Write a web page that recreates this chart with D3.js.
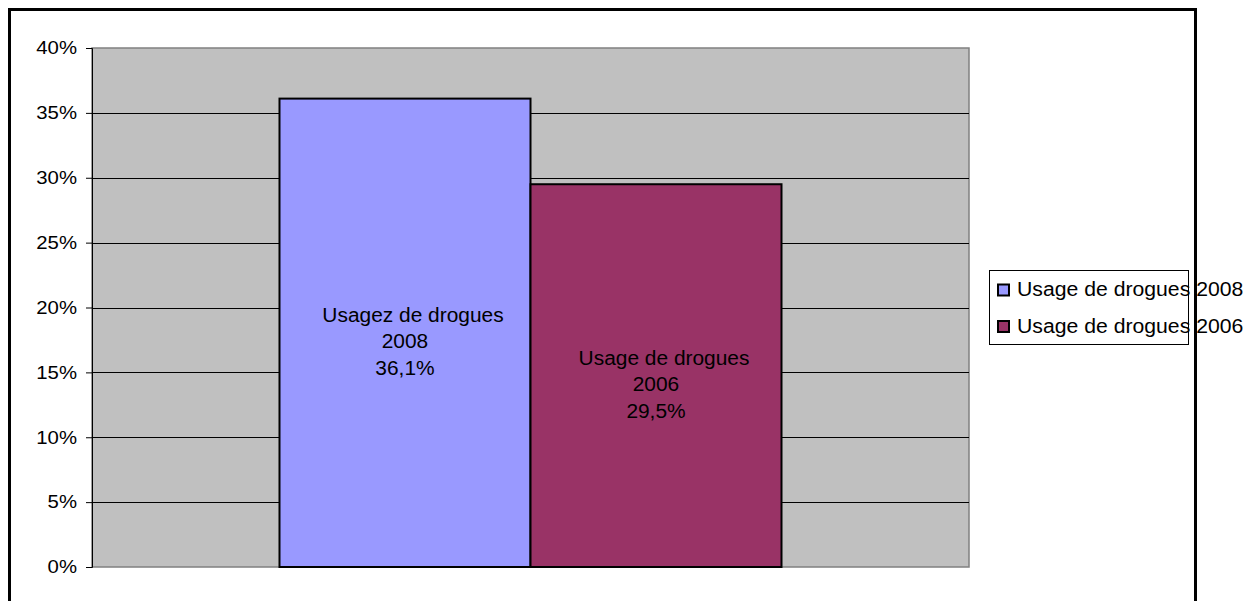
<!DOCTYPE html>
<html>
<head>
<meta charset="utf-8">
<script src="https://cdn.jsdelivr.net/npm/d3@7"></script>
<style>
body { margin: 0; background: #fff; }
text { font-family: "Liberation Sans", Arial, sans-serif; fill: #000; }
</style>
</head>
<body>
<div id="chart"></div>
<script>
// data
var categories = [""];
var seriesNames = ["Usage de drogues 2008", "Usage de drogues 2006"];
var seriesValues = [36.1, 29.5];
var barLabels = [["Usagez de drogues", "2008", "36,1%"], ["Usage de drogues", "2006", "29,5%"]];
var seriesColors = ["#9999ff", "#993366"];
var yTicks = [0, 5, 10, 15, 20, 25, 30, 35, 40];

var width = 1258, height = 601;
var plot = {left: 92, top: 48, right: 969, bottom: 567};

var svg = d3.select("#chart")
  .append("svg")
  .attr("width", width)
  .attr("height", height);

// outer frame (bottom edge runs off the picture)
svg.append("rect")
  .attr("x", 9.5).attr("y", 9.5)
  .attr("width", 1186).attr("height", 620)
  .attr("fill", "#fff")
  .attr("stroke", "#000")
  .attr("stroke-width", 3);

var yscale = d3.scaleLinear().domain([0, 40]).range([plot.bottom, plot.top]);

var x0 = d3.scaleBand()
  .domain(categories)
  .range([plot.left, plot.right])
  .paddingInner(0)
  .paddingOuter(0.3735);

var x1 = d3.scaleBand()
  .domain(seriesNames)
  .range([0, x0.bandwidth()])
  .padding(0);

function stretch(sel, k) {
  sel.each(function () {
    var w = this.getComputedTextLength();
    d3.select(this).attr("textLength", w * k).attr("lengthAdjust", "spacingAndGlyphs");
  });
}

// plot area
svg.append("rect")
  .attr("x", plot.left).attr("y", plot.top)
  .attr("width", plot.right - plot.left)
  .attr("height", plot.bottom - plot.top)
  .attr("fill", "#c0c0c0")
  .attr("stroke", "#808080")
  .attr("stroke-width", 1.5);

// gridlines
svg.append("g")
  .selectAll("line")
  .data(yTicks.slice(1, -1))
  .enter()
  .append("line")
  .attr("x1", plot.left).attr("x2", plot.right)
  .attr("y1", function (d) { return Math.round(yscale(d)) + 0.5; })
  .attr("y2", function (d) { return Math.round(yscale(d)) + 0.5; })
  .attr("stroke", "#000")
  .attr("stroke-width", 1);

// y axis
var yaxis = svg.append("g")
  .attr("transform", "translate(" + plot.left + ",0)")
  .call(d3.axisLeft(yscale).tickValues(yTicks).tickSize(6).tickPadding(9)
    .tickFormat(function (d) { return d + "%"; }));
yaxis.attr("font-family", null).attr("font-size", null);
yaxis.select(".domain").attr("stroke", "#000");
yaxis.selectAll(".tick line").attr("stroke", "#000");
yaxis.selectAll("text").style("font-size", "18px").call(stretch, 1.13);

// bars
var data = seriesNames.map(function (s, i) {
  return {series: s, cat: categories[0], value: seriesValues[i], color: seriesColors[i], label: barLabels[i]};
});

svg.append("g")
  .selectAll("rect")
  .data(data)
  .enter()
  .append("rect")
  .attr("x", function (d) { return x0(d.cat) + x1(d.series); })
  .attr("y", function (d) { return yscale(d.value); })
  .attr("width", x1.bandwidth())
  .attr("height", function (d) { return yscale(0) - yscale(d.value); })
  .attr("fill", function (d) { return d.color; })
  .attr("stroke", "#000")
  .attr("stroke-width", 2);

// labels inside bars
var lineOffsets = [-26, 0, 27];
var labels = svg.append("g")
  .selectAll("g")
  .data(data)
  .enter()
  .append("g")
  .attr("transform", function (d) {
    var cx = x0(d.cat) + x1(d.series) + x1.bandwidth() / 2;
    var cy = (yscale(d.value) + yscale(0)) / 2 + 15;
    return "translate(" + cx + "," + cy + ")";
  });

labels.selectAll("text")
  .data(function (d) { return d.label; })
  .enter()
  .append("text")
  .attr("x", function (d, i) { return i == 0 ? 8 : 0; })
  .attr("y", function (d, i) { return lineOffsets[i]; })
  .attr("text-anchor", "middle")
  .style("font-size", "20px")
  .text(function (d) { return d; })
  .call(stretch, 1.045);

// legend
var legend = svg.append("g").attr("transform", "translate(989,270)");
legend.append("rect")
  .attr("x", 0.5).attr("y", 0.5)
  .attr("width", 199).attr("height", 74)
  .attr("fill", "#fff")
  .attr("stroke", "#000")
  .attr("stroke-width", 1);

var items = legend.selectAll(".item")
  .data(data)
  .enter()
  .append("g")
  .attr("class", "item")
  .attr("transform", function (d, i) { return "translate(0," + (i * 36.5) + ")"; });

items.append("rect")
  .attr("x", 9).attr("y", 14.5)
  .attr("width", 11).attr("height", 11)
  .attr("fill", function (d) { return d.color; })
  .attr("stroke", "#000")
  .attr("stroke-width", 2);

items.append("text")
  .attr("x", 28).attr("y", 26)
  .style("font-size", "20px")
  .text(function (d) { return d.series; })
  .call(stretch, 1.06);
</script>
</body>
</html>
